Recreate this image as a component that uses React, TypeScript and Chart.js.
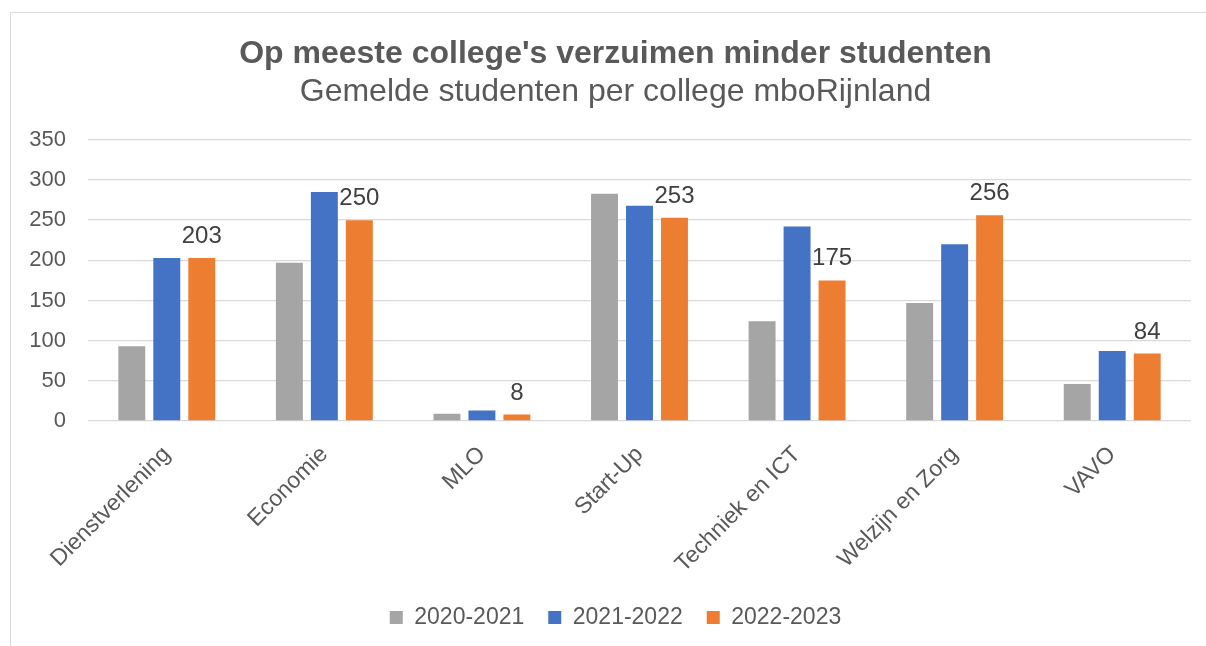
import React, { useEffect, useRef } from "react";
import { Chart, registerables } from "chart.js";

Chart.register(...registerables);

const categories = [
  "Dienstverlening",
  "Economie",
  "MLO",
  "Start-Up",
  "Techniek en ICT",
  "Welzijn en Zorg",
  "VAVO",
];
const seriesNames = ["2020-2021", "2021-2022", "2022-2023"];
const values2020 = [93, 197, 9, 283, 124, 147, 46];
const values2021 = [203, 285, 13, 268, 242, 220, 87];
const values2022 = [203, 250, 8, 253, 175, 256, 84];
const colors = ["#a5a5a5", "#4472c4", "#ed7d31"];
const yTicks = [0, 50, 100, 150, 200, 250, 300, 350];

const FONT = "'Liberation Sans', Arial, sans-serif";

const labelPlugin = {
  id: "orangeLabels",
  afterDatasetsDraw(chart: any) {
    const ctx = chart.ctx;
    const meta = chart.getDatasetMeta(2);
    const data = chart.data.datasets[2].data;
    ctx.save();
    ctx.font = `24px ${FONT}`;
    ctx.fillStyle = "#404040";
    ctx.textAlign = "center";
    ctx.textBaseline = "alphabetic";
    meta.data.forEach((el: any, i: number) => {
      ctx.fillText(String(data[i]), el.x, el.y - 15);
    });
    ctx.restore();
  },
};

export default function App() {
  const ref = useRef<HTMLCanvasElement | null>(null);
  useEffect(() => {
    if (!ref.current) return;
    const chart = new Chart(ref.current, {
      type: "bar",
      data: {
        labels: categories,
        datasets: [values2020, values2021, values2022].map((d, i) => ({
          label: seriesNames[i],
          data: d,
          backgroundColor: colors[i],
          borderWidth: 0,
          categoryPercentage: 0.666,
          barPercentage: 0.77,
        })),
      },
      options: {
        animation: false,
        responsive: false,
        maintainAspectRatio: false,
        layout: { padding: { left: 17, right: 18, top: 0, bottom: 14 } },
        plugins: {
          title: {
            display: true,
            text: "Op meeste college's verzuimen minder studenten",
            color: "#595959",
            font: { family: FONT, size: 32, weight: "bold" },
            padding: { top: 22, bottom: 0 },
          },
          subtitle: {
            display: true,
            text: "Gemelde studenten per college mboRijnland",
            color: "#595959",
            font: { family: FONT, size: 32, weight: "normal" },
            padding: { top: 0, bottom: 28 },
          },
          legend: {
            position: "bottom",
            labels: {
              color: "#595959",
              font: { family: FONT, size: 23 },
              boxWidth: 13,
              boxHeight: 13,
              padding: 24,
            },
          },
          tooltip: { enabled: false },
        },
        scales: {
          x: {
            grid: { display: false },
            border: { display: false },
            ticks: {
              color: "#595959",
              font: { family: FONT, size: 23 },
              minRotation: 45,
              maxRotation: 45,
              padding: 12,
            },
            afterFit(scale: any) {
              scale.height = 161;
              scale.paddingLeft = 0;
              scale.paddingRight = 0;
            },
          },
          y: {
            min: 0,
            max: 350,
            afterBuildTicks(scale: any) {
              scale.ticks = yTicks.map((v) => ({ value: v }));
            },
            afterFit(scale: any) {
              scale.width = 60;
            },
            grid: { color: "#d9d9d9", lineWidth: 1.3, drawTicks: false },
            border: { display: false },
            ticks: {
              color: "#595959",
              font: { family: FONT, size: 22 },
              padding: 22,
            },
          },
          yRight: {
            type: "linear",
            position: "right",
            display: true,
            grid: { display: false, drawTicks: false },
            border: { display: false },
            ticks: { display: false },
            afterFit(scale: any) {
              scale.width = 12;
            },
          },
        },
      },
      plugins: [labelPlugin],
    });
    return () => chart.destroy();
  }, []);

  return (
    <div
      style={{
        position: "fixed",
        left: 0,
        top: 0,
        width: 1206,
        height: 646,
        overflow: "hidden",
        background: "#fff",
      }}
    >
      <div
        style={{
          position: "absolute",
          left: 10,
          top: 12,
          width: 1230,
          height: 680,
          borderLeft: "1px solid #d9d9d9",
          borderTop: "1px solid #d9d9d9",
        }}
      >
        <canvas
          ref={ref}
          width={1210}
          height={640}
          style={{ display: "block", width: 1210, height: 640 }}
        />
      </div>
    </div>
  );
}
